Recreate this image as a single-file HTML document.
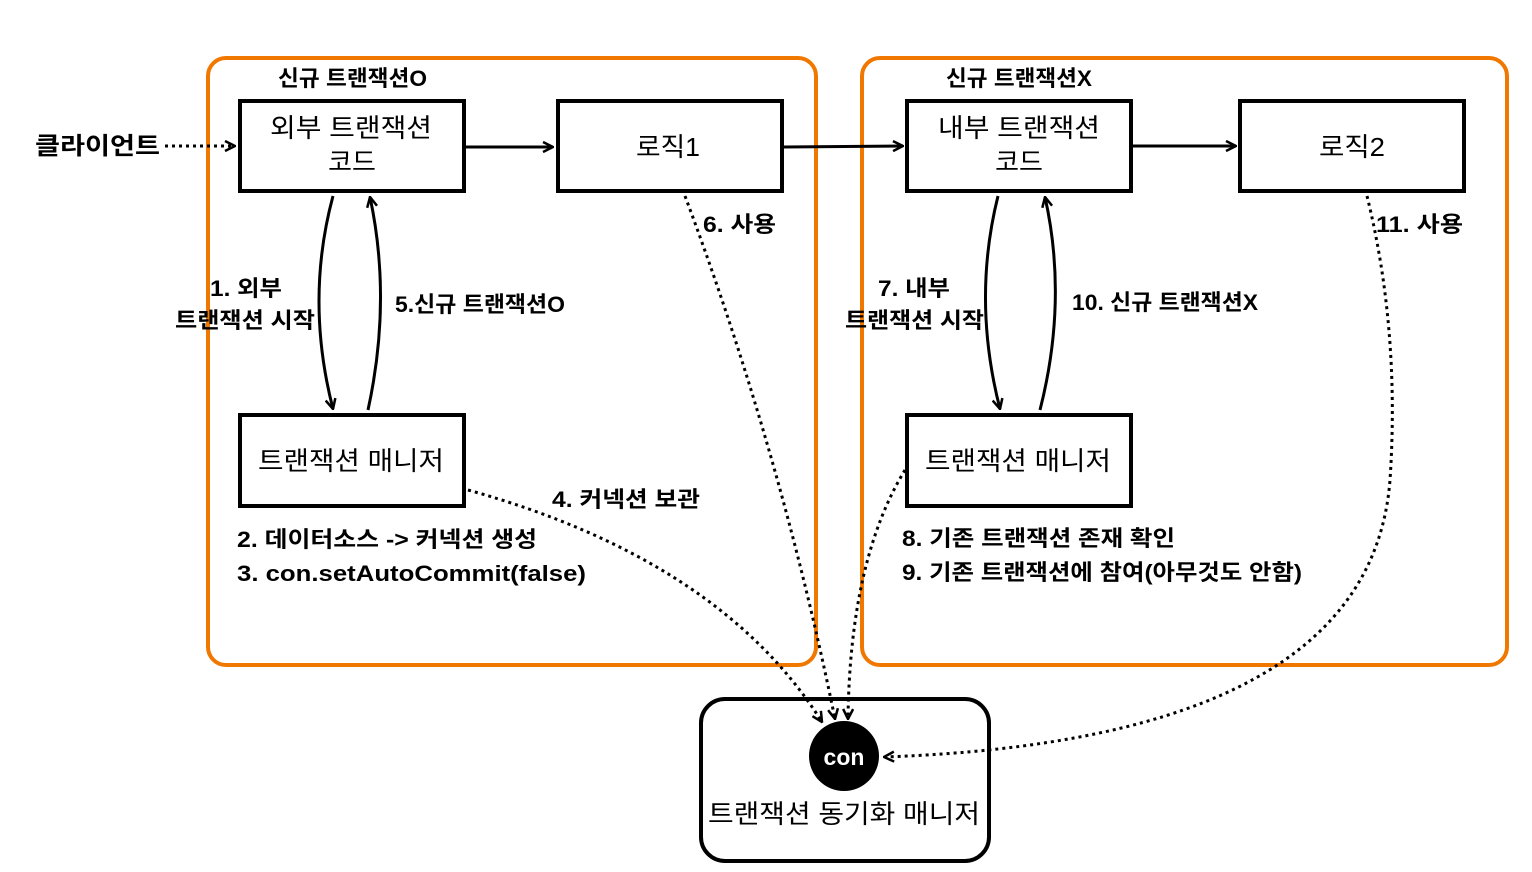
<!DOCTYPE html>
<html><head><meta charset="utf-8"><style>
html,body{margin:0;padding:0;background:#fff;}
svg{display:block;}
text{font-family:"Liberation Sans","Noto Sans CJK KR",sans-serif;fill:#000;}
.b{font-weight:bold;font-size:22px;}
.n{font-size:26px;}
</style></head><body>
<svg width="1532" height="872" viewBox="0 0 1532 872" xmlns="http://www.w3.org/2000/svg">
<defs>
<marker id="a" viewBox="0 0 12 12" refX="11" refY="6" markerWidth="12" markerHeight="12" markerUnits="userSpaceOnUse" orient="auto">
<path d="M1,1 L11,6 L1,11" fill="none" stroke="#000" stroke-width="2.5"/></marker>
</defs>
<rect x="208" y="58" width="608" height="607" rx="18" fill="none" stroke="#f07800" stroke-width="4"/>
<rect x="862" y="58" width="645" height="607" rx="18" fill="none" stroke="#f07800" stroke-width="4"/>
<g fill="#fff" stroke="#000" stroke-width="4">
<rect x="240" y="101" width="224" height="90"/>
<rect x="558" y="101" width="224" height="90"/>
<rect x="907" y="101" width="224" height="90"/>
<rect x="1240" y="101" width="224" height="90"/>
<rect x="240" y="415" width="224" height="91"/>
<rect x="907" y="415" width="224" height="91"/>
<rect x="701" y="699" width="288" height="162" rx="24"/>
</g>
<circle cx="844" cy="756" r="35" fill="#000"/>
<text x="844" y="765" text-anchor="middle" style="fill:#fff;font-size:23px;font-weight:bold">con</text>
<text x="708" y="823" class="n" textLength="272" lengthAdjust="spacingAndGlyphs">트랜잭션 동기화 매니저</text>
<text x="278" y="86" class="b" textLength="149" lengthAdjust="spacingAndGlyphs">신규 트랜잭션O</text>
<text x="946" y="86" class="b" textLength="146" lengthAdjust="spacingAndGlyphs">신규 트랜잭션X</text>
<text x="270" y="137" class="n" textLength="162" lengthAdjust="spacingAndGlyphs">외부 트랜잭션</text>
<text x="352" y="171" text-anchor="middle" class="n">코드</text>
<text x="636" y="156" class="n" textLength="64" lengthAdjust="spacingAndGlyphs">로직1</text>
<text x="938" y="137" class="n" textLength="162" lengthAdjust="spacingAndGlyphs">내부 트랜잭션</text>
<text x="1019" y="171" text-anchor="middle" class="n">코드</text>
<text x="1319" y="156" class="n" textLength="66" lengthAdjust="spacingAndGlyphs">로직2</text>
<text x="258" y="470" class="n" textLength="186" lengthAdjust="spacingAndGlyphs">트랜잭션 매니저</text>
<text x="925" y="470" class="n" textLength="186" lengthAdjust="spacingAndGlyphs">트랜잭션 매니저</text>
<text x="35" y="154" class="b" style="font-size:24px" textLength="125" lengthAdjust="spacingAndGlyphs">클라이언트</text>
<g stroke="#000" stroke-width="3" fill="none">
<line x1="466" y1="147" x2="553" y2="147" marker-end="url(#a)"/>
<line x1="784" y1="147" x2="903" y2="146" marker-end="url(#a)"/>
<line x1="1133" y1="146" x2="1236" y2="146" marker-end="url(#a)"/>
<path d="M333,196 Q305,300 333,409" marker-end="url(#a)"/>
<path d="M368,410 Q392,300 370,197" marker-end="url(#a)"/>
<path d="M998,196 Q972,300 1000,409" marker-end="url(#a)"/>
<path d="M1040,410 Q1068,300 1045,197" marker-end="url(#a)"/>
</g>
<g stroke="#000" stroke-width="3" fill="none" stroke-dasharray="3,4">
<line x1="165" y1="146" x2="235" y2="146" marker-end="url(#a)"/>
<path d="M468,490 Q720,560 822,722" marker-end="url(#a)"/>
<path d="M685,196 Q780,450 835,719" marker-end="url(#a)"/>
<path d="M905,470 Q850,560 848,719" marker-end="url(#a)"/>
<path d="M1367,196 Q1400,330 1390,480 Q1370,740 884,757" marker-end="url(#a)"/>
</g>
<text x="210" y="296" class="b" textLength="72" lengthAdjust="spacingAndGlyphs">1. 외부</text>
<text x="175" y="328" class="b" textLength="140" lengthAdjust="spacingAndGlyphs">트랜잭션 시작</text>
<text x="395" y="312" class="b" textLength="170" lengthAdjust="spacingAndGlyphs">5.신규 트랜잭션O</text>
<text x="703" y="232" class="b" textLength="73" lengthAdjust="spacingAndGlyphs">6. 사용</text>
<text x="552" y="507" class="b" textLength="148" lengthAdjust="spacingAndGlyphs">4. 커넥션 보관</text>
<text x="237" y="547" class="b" textLength="300" lengthAdjust="spacingAndGlyphs">2. 데이터소스 -&gt; 커넥션 생성</text>
<text x="237" y="581" class="b" textLength="349" lengthAdjust="spacingAndGlyphs">3. con.setAutoCommit(false)</text>
<text x="878" y="296" class="b" textLength="72" lengthAdjust="spacingAndGlyphs">7. 내부</text>
<text x="845" y="328" class="b" textLength="139" lengthAdjust="spacingAndGlyphs">트랜잭션 시작</text>
<text x="1072" y="310" class="b" textLength="186" lengthAdjust="spacingAndGlyphs">10. 신규 트랜잭션X</text>
<text x="1376" y="232" class="b" textLength="87" lengthAdjust="spacingAndGlyphs">11. 사용</text>
<text x="902" y="546" class="b" textLength="273" lengthAdjust="spacingAndGlyphs">8. 기존 트랜잭션 존재 확인</text>
<text x="902" y="580" class="b" textLength="400" lengthAdjust="spacingAndGlyphs">9. 기존 트랜잭션에 참여(아무것도 안함)</text>
</svg>
</body></html>
